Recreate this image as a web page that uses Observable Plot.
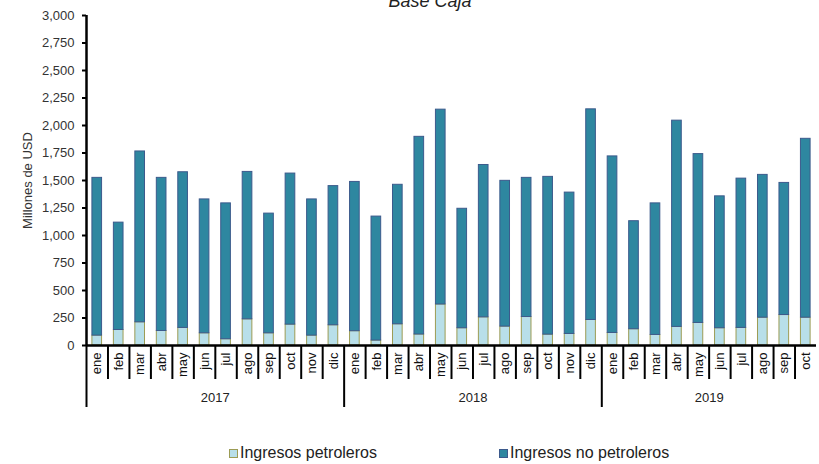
<!DOCTYPE html>
<html>
<head>
<meta charset="utf-8">
<script src="https://cdn.jsdelivr.net/npm/d3@7"></script>
<script src="https://cdn.jsdelivr.net/npm/@observablehq/plot@0.6"></script>
<style>
  html, body { margin: 0; padding: 0; background: #fff; }
  #wrap { position: relative; width: 819px; height: 464px; overflow: hidden; font-family: "Liberation Sans", Arial, sans-serif; }
  #chart { position: absolute; left: 0; top: 0; }
  #title { position: absolute; left: 330px; width: 200px; text-align: center; top: -8px; font-style: italic; font-size: 18px; line-height: 18px; color: #222; }
  .leg { position: absolute; top: 445px; font-size: 16px; line-height: 16px; color: #222; white-space: nowrap; }
  .sw { position: absolute; top: 4px; left: -11px; width: 7px; height: 7px; }
</style>
</head>
<body>
<div id="wrap">
  <div id="chart"></div>
  <div id="title">Base Caja</div>
  <div class="leg" style="left:240px"><span class="sw" style="background:#B8DFE9;border:1px solid #9C9C55"></span>Ingresos petroleros</div>
  <div class="leg" style="left:510px"><span class="sw" style="background:#2E87A0;border:1px solid #3C5A8C"></span>Ingresos no petroleros</div>
</div>
<script>
const years = ["2017", "2018", "2019"];
const monthNames = ["ene","feb","mar","abr","may","jun","jul","ago","sep","oct","nov","dic"];
const monthsPerYear = [12, 12, 10];

const petroleros = [
  90, 141, 211, 132, 160, 111, 57, 238, 111, 190, 90, 184,
  130, 45, 193, 100, 373, 157, 256, 172, 259, 99, 105, 232,
  114, 148, 96, 169, 205, 157, 160, 253, 277, 253
];
const noPetroleros = [
  1434, 976, 1553, 1392, 1415, 1217, 1235, 1340, 1088, 1373, 1238, 1265,
  1357, 1127, 1268, 1797, 1771, 1086, 1385, 1325, 1265, 1434, 1285, 1915,
  1605, 982, 1196, 1875, 1535, 1199, 1357, 1298, 1201, 1626
];
const yTicks = [0, 250, 500, 750, 1000, 1250, 1500, 1750, 2000, 2250, 2500, 2750, 3000];

// build table
const data = [];
years.forEach((yr, yi) => {
  for (let m = 0; m < monthsPerYear[yi]; m++) {
    const i = data.length;
    data.push({key: yr + "-" + monthNames[m], year: yr, mes: monthNames[m], m,
               pet: petroleros[i], non: noPetroleros[i]});
  }
});
const yearInfo = years.map((yr) => {
  const ms = data.filter(d => d.year === yr);
  return {year: yr, first: ms[0].key, center: ms[Math.floor(ms.length / 2)].key, even: ms.length % 2 === 0};
});

const W = 819, H = 464, ML = 86, MR = 3, MT = 15, MB = 119;
const step = (W - ML - MR) / data.length;
const unitsPerPx = 3000 / (H - MT - MB);
const sepMonth = -34 * unitsPerPx;
const sepYear = -62 * unitsPerPx;

const plot = Plot.plot({
  width: W, height: H,
  marginLeft: ML, marginRight: MR, marginTop: MT, marginBottom: MB,
  style: {fontFamily: "Liberation Sans, Arial, sans-serif", color: "#000", background: "#fff"},
  x: {type: "band", domain: data.map(d => d.key), paddingInner: 0.55, paddingOuter: 0.275, round: false, axis: null},
  y: {domain: [0, 3000]},
  marks: [
    Plot.barY(data, {x: "key", y1: 0, y2: "pet", fill: "#B8DFE9", stroke: "#9C9C55", strokeWidth: 1}),
    Plot.barY(data, {x: "key", y1: "pet", y2: d => d.pet + d.non, fill: "#2E87A0", stroke: "#3C5A8C", strokeWidth: 1}),
    Plot.axisY({ticks: yTicks, tickFormat: d3.format(","), tickSize: 4, tickPadding: 8, fontSize: 13,
      color: "#333", stroke: "#000", strokeWidth: 2,
      label: "Millones de USD", labelAnchor: "center", labelArrow: "none", labelOffset: 64}),
    // month separators
    Plot.ruleX(data.filter(d => d.m !== 0), {x: "key", dx: -step / 2, y1: 0, y2: sepMonth, stroke: "#000", strokeWidth: 2}),
    // year separators + left axis line
    Plot.ruleX(yearInfo, {x: "first", dx: -step / 2, y1: sepYear, y2: yTicks[0], stroke: "#000", strokeWidth: 2}),
    Plot.ruleX(yearInfo.slice(0, 1), {x: "first", dx: -step / 2, y1: 0, y2: yTicks[yTicks.length - 1], stroke: "#000", strokeWidth: 2.5}),
    Plot.ruleY([0], {stroke: "#000", strokeWidth: 2.5}),
    // month labels
    Plot.text(data, {x: "key", y: 0, text: "mes", rotate: -90, textAnchor: "end", lineAnchor: "middle", dy: 7, fontSize: 13, fill: "#111"}),
    // year labels
    Plot.text(yearInfo.filter(d => d.even), {x: "center", y: 0, text: "year", dx: -step / 2, dy: 52, fontSize: 13, fill: "#222"}),
    Plot.text(yearInfo.filter(d => !d.even), {x: "center", y: 0, text: "year", dy: 52, fontSize: 13, fill: "#222"})
  ]
});
document.getElementById("chart").appendChild(plot);
</script>
</body>
</html>
